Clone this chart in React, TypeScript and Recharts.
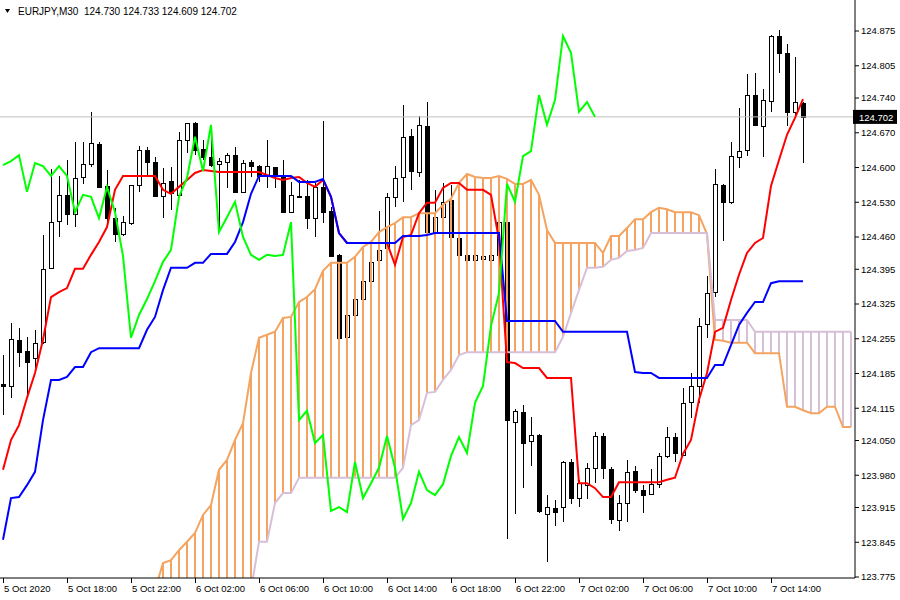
import React from 'react';
import { ComposedChart, Bar, Line, XAxis, YAxis, ReferenceLine } from 'recharts';

const FONT = '"Liberation Sans", Arial, sans-serif';

// EURJPY M30, one candle per bar starting 5 Oct 14:00
const opens = [
  124.164, 124.160, 124.253, 124.230, 124.216, 124.249, 124.398, 124.492, 124.545, 124.506,
  124.581, 124.607, 124.647, 124.563, 124.498, 124.466, 124.488, 124.565, 124.635, 124.611,
  124.543, 124.573, 124.545, 124.655, 124.690, 124.637, 124.621, 124.607, 124.611, 124.625,
  124.551, 124.611, 124.603, 124.583, 124.601, 124.583, 124.510, 124.543, 124.543, 124.498,
  124.561, 124.513, 124.424, 124.259, 124.303, 124.335, 124.371, 124.414, 124.438, 124.541,
  124.581, 124.664, 124.591, 124.684, 124.470, 124.500, 124.535, 124.458, 124.424, 124.414,
  124.416, 124.414, 124.424, 124.490, 124.087, 124.108, 124.049, 124.061, 123.902, 123.914,
  123.916, 124.007, 123.934, 123.960, 123.995, 124.059, 123.993, 123.890, 123.924, 123.989,
  123.950, 123.942, 123.962, 124.019, 124.057, 124.021, 124.128, 124.160, 124.285, 124.349,
  124.565, 124.531, 124.621, 124.635, 124.746, 124.684, 124.734, 124.865, 124.831, 124.712,
  124.730,
];
const highs = [
  124.222, 124.287, 124.277, 124.259, 124.273, 124.464, 124.597, 124.583, 124.615, 124.651,
  124.651, 124.712, 124.651, 124.595, 124.519, 124.502, 124.565, 124.643, 124.641, 124.621,
  124.599, 124.601, 124.672, 124.690, 124.692, 124.655, 124.662, 124.619, 124.629, 124.641,
  124.615, 124.615, 124.605, 124.655, 124.601, 124.615, 124.571, 124.575, 124.575, 124.569,
  124.694, 124.521, 124.426, 124.307, 124.337, 124.373, 124.414, 124.513, 124.549, 124.603,
  124.726, 124.678, 124.704, 124.732, 124.555, 124.569, 124.565, 124.460, 124.428, 124.426,
  124.424, 124.424, 124.494, 124.494, 124.114, 124.122, 124.097, 124.063, 123.940, 123.930,
  124.009, 124.013, 123.971, 124.005, 124.067, 124.065, 123.997, 123.940, 124.011, 123.999,
  123.960, 123.993, 124.025, 124.077, 124.065, 124.156, 124.186, 124.297, 124.382, 124.597,
  124.567, 124.651, 124.720, 124.788, 124.790, 124.758, 124.867, 124.877, 124.849, 124.823,
  124.733,
];
const lows = [
  124.101, 124.136, 124.198, 124.138, 124.196, 124.244, 124.396, 124.460, 124.484, 124.480,
  124.567, 124.601, 124.559, 124.484, 124.450, 124.462, 124.484, 124.551, 124.583, 124.541,
  124.498, 124.515, 124.543, 124.629, 124.625, 124.615, 124.601, 124.474, 124.559, 124.549,
  124.549, 124.581, 124.571, 124.559, 124.559, 124.508, 124.508, 124.539, 124.476, 124.460,
  124.488, 124.420, 124.255, 124.255, 124.301, 124.333, 124.369, 124.410, 124.434, 124.521,
  124.531, 124.555, 124.581, 124.468, 124.468, 124.498, 124.458, 124.422, 124.412, 124.412,
  124.412, 124.412, 124.422, 123.852, 123.902, 123.954, 123.999, 123.904, 123.805, 123.878,
  123.886, 123.922, 123.916, 123.932, 123.964, 123.973, 123.882, 123.868, 123.886, 123.944,
  123.904, 123.940, 123.954, 124.015, 124.007, 124.019, 124.095, 124.126, 124.257, 124.339,
  124.452, 124.527, 124.599, 124.623, 124.684, 124.621, 124.712, 124.790, 124.684, 124.702,
  124.609,
];
const closes = [
  124.160, 124.255, 124.228, 124.208, 124.247, 124.396, 124.490, 124.545, 124.506, 124.579,
  124.607, 124.649, 124.561, 124.498, 124.466, 124.490, 124.565, 124.635, 124.611, 124.543,
  124.569, 124.549, 124.655, 124.690, 124.635, 124.621, 124.605, 124.613, 124.625, 124.551,
  124.609, 124.603, 124.583, 124.603, 124.583, 124.510, 124.545, 124.541, 124.498, 124.561,
  124.510, 124.422, 124.257, 124.303, 124.335, 124.371, 124.410, 124.434, 124.541, 124.579,
  124.662, 124.593, 124.686, 124.470, 124.500, 124.531, 124.460, 124.424, 124.414, 124.424,
  124.422, 124.424, 124.490, 124.091, 124.110, 124.045, 124.061, 123.908, 123.916, 123.906,
  124.007, 123.934, 123.964, 123.995, 124.059, 123.995, 123.892, 123.924, 123.987, 123.950,
  123.940, 123.962, 124.019, 124.057, 124.025, 124.126, 124.160, 124.281, 124.347, 124.567,
  124.531, 124.623, 124.633, 124.746, 124.686, 124.736, 124.865, 124.831, 124.712, 124.732,
  124.702,
];

// Tenkan-sen (red) and Kijun-sen (blue), one value per candle
const tenkan = [
  123.991, 124.051, 124.081, 124.136, 124.186, 124.253, 124.339, 124.349, 124.357, 124.396,
  124.396, 124.424, 124.450, 124.480, 124.555, 124.583, 124.583, 124.583, 124.583, 124.583,
  124.555, 124.547, 124.561, 124.575, 124.589, 124.595, 124.593, 124.591, 124.591, 124.591,
  124.591, 124.591, 124.591, 124.585, 124.579, 124.575, 124.579, 124.581, 124.569, 124.561,
  124.575, 124.541, 124.468, 124.448, 124.448, 124.448, 124.448, 124.448, 124.448, 124.404,
  124.460, 124.464, 124.508, 124.529, 124.529, 124.559, 124.569, 124.569, 124.555, 124.555,
  124.555, 124.545, 124.454, 124.208, 124.206, 124.196, 124.196, 124.196, 124.176, 124.176,
  124.176, 124.176, 123.964, 123.964, 123.954, 123.936, 123.936, 123.966, 123.966, 123.966,
  123.966, 123.966, 123.966, 123.971, 123.975, 124.023, 124.051, 124.132, 124.186, 124.269,
  124.277, 124.333, 124.384, 124.428, 124.448, 124.458, 124.563, 124.615, 124.666, 124.700,
  124.738,
];
const kijun = [
  123.850, 123.934, 123.936, 123.960, 123.987, 124.091, 124.172, 124.172, 124.178, 124.198,
  124.198, 124.228, 124.236, 124.236, 124.236, 124.236, 124.236, 124.236, 124.273, 124.299,
  124.353, 124.398, 124.398, 124.398, 124.408, 124.408, 124.426, 124.426, 124.426, 124.450,
  124.490, 124.547, 124.583, 124.583, 124.583, 124.583, 124.583, 124.571, 124.571, 124.571,
  124.577, 124.541, 124.468, 124.448, 124.448, 124.448, 124.448, 124.448, 124.448, 124.448,
  124.462, 124.462, 124.462, 124.464, 124.468, 124.468, 124.468, 124.468, 124.468, 124.468,
  124.468, 124.468, 124.468, 124.291, 124.291, 124.291, 124.291, 124.291, 124.291, 124.291,
  124.269, 124.269, 124.269, 124.269, 124.269, 124.269, 124.269, 124.269, 124.269, 124.188,
  124.186, 124.186, 124.176, 124.176, 124.176, 124.176, 124.176, 124.176, 124.176, 124.202,
  124.202, 124.242, 124.283, 124.307, 124.329, 124.329, 124.367, 124.371, 124.371, 124.371,
  124.371,
];

// Senkou spans, drawn from bar 19 to bar 106 (26 bars ahead of last candle)
const CLOUD_START = 19;
const spanA = [
  123.749, 123.803, 123.809, 123.829, 123.846, 123.864, 123.900, 123.920, 123.991, 124.011,
  124.051, 124.085, 124.186, 124.257, 124.263, 124.269, 124.297, 124.299, 124.329, 124.339,
  124.355, 124.392, 124.408, 124.408, 124.408, 124.420, 124.440, 124.450, 124.470, 124.480,
  124.488, 124.500, 124.500, 124.508, 124.508, 124.508, 124.525, 124.537, 124.569, 124.587,
  124.581, 124.579, 124.579, 124.583, 124.577, 124.567, 124.567, 124.575, 124.545, 124.474,
  124.448, 124.448, 124.448, 124.448, 124.448, 124.448, 124.428, 124.462, 124.462, 124.478,
  124.496, 124.496, 124.510, 124.519, 124.516, 124.510, 124.510, 124.510, 124.504, 124.466,
  124.253, 124.251, 124.247, 124.247, 124.247, 124.226, 124.226, 124.226, 124.226, 124.118,
  124.118, 124.111, 124.105, 124.105, 124.118, 124.118, 124.077, 124.077,
];
const spanB = [
  123.640, 123.640, 123.640, 123.640, 123.640, 123.640, 123.640, 123.640, 123.640, 123.640,
  123.640, 123.690, 123.749, 123.846, 123.846, 123.924, 123.944, 123.944, 123.975, 123.975,
  123.975, 123.975, 123.975, 123.975, 123.975, 123.975, 123.975, 123.975, 123.975, 123.975,
  123.975, 123.995, 124.081, 124.091, 124.146, 124.148, 124.172, 124.192, 124.222, 124.228,
  124.228, 124.228, 124.228, 124.228, 124.228, 124.228, 124.228, 124.228, 124.228, 124.228,
  124.228, 124.259, 124.307, 124.353, 124.398, 124.398, 124.400, 124.414, 124.418, 124.432,
  124.434, 124.438, 124.468, 124.468, 124.468, 124.468, 124.468, 124.468, 124.468, 124.468,
  124.293, 124.293, 124.293, 124.293, 124.293, 124.269, 124.269, 124.269, 124.269, 124.269,
  124.269, 124.269, 124.269, 124.269, 124.269, 124.269, 124.269, 124.269,
];

const timeLabels = [
  '5 Oct 2020', '5 Oct 18:00', '5 Oct 22:00', '6 Oct 02:00', '6 Oct 06:00', '6 Oct 10:00',
  '6 Oct 14:00', '6 Oct 18:00', '6 Oct 22:00', '7 Oct 02:00', '7 Oct 06:00', '7 Oct 10:00',
  '7 Oct 14:00',
];
const priceTicks = [
  124.875, 124.805, 124.74, 124.67, 124.6, 124.53, 124.46, 124.395, 124.325, 124.255,
  124.185, 124.115, 124.05, 123.98, 123.915, 123.845, 123.775,
];
const lastPrice = 124.702;

const BARS = 107;
const CHIKOU_SHIFT = 26;

const rows = Array.from({ length: BARS }, (_, i) => {
  const c = i - CLOUD_START;
  return {
    i,
    open: opens[i] ?? null,
    high: highs[i] ?? null,
    low: lows[i] ?? null,
    close: closes[i] ?? null,
    tenkan: tenkan[i] ?? null,
    kijun: kijun[i] ?? null,
    chikou: closes[i + CHIKOU_SHIFT] ?? null,
    spanA: c >= 0 ? spanA[c] : null,
    spanB: c >= 0 ? spanB[c] : null,
  };
});

const Candle = (props: any) => {
  const { x, y, width, height } = props;
  const d = props.payload ?? props;
  if (d.high == null || !height) return null;
  const top = Math.min(y, y + height);
  const span = Math.abs(height);
  const k = span / (d.high - d.low);
  const py = (p: number) => Math.round(top + (d.high - p) * k);
  const cx = Math.round(x + width / 2);
  const y1 = py(Math.max(d.open, d.close));
  const y2 = py(Math.min(d.open, d.close));
  const wTop = Math.round(top);
  const wBot = Math.round(top + span);
  return (
    <g>
      <rect x={cx} y={wTop} width={1} height={Math.max(1, wBot - wTop)} fill="#000" />
      {d.close > d.open ? (
        <rect x={cx - 1.5} y={y1 + 0.5} width={4} height={Math.max(1, y2 - y1)} fill="#fff" stroke="#000" strokeWidth={1} />
      ) : (
        <rect x={cx - 2} y={y1} width={5} height={Math.max(1, y2 - y1 + 1)} fill="#000" />
      )}
    </g>
  );
};

// cloud hatching, one 2px stroke per bar, drawn over the candles like MT4 does
const Hatch = (props: any) => {
  const { x, y, width, height } = props;
  const d = props.payload ?? props;
  if (d.spanA == null || !height) return null;
  const cx = Math.round(x + width / 2);
  const top = Math.min(y, y + height);
  return (
    <rect
      x={cx - 1}
      y={top}
      width={2}
      height={Math.abs(height)}
      fill={d.spanA >= d.spanB ? '#F4A460' : '#D8BFD8'}
    />
  );
};

const TimeTick = (props: any) => {
  const { x, y, payload } = props;
  const n = payload.value / 8;
  if (payload.value % 8 !== 0 || n >= timeLabels.length) return null;
  return (
    <g>
      <line x1={x + 0.5} y1={y} x2={x + 0.5} y2={y + 5} stroke="#000" />
      <text x={x + 1} y={y + 14} fontSize={9.5} fontFamily={FONT} fill="#000">
        {timeLabels[n]}
      </text>
    </g>
  );
};

const PriceTag = (props: any) => {
  const vb = props.viewBox;
  if (!vb) return null;
  const left = vb.x + vb.width - 2;
  return (
    <g>
      <rect x={left} y={vb.y - 7} width={44} height={14} fill="#000" />
      <text x={left + 6} y={vb.y + 4} fontSize={9.5} fontFamily={FONT} fill="#fff">
        {lastPrice.toFixed(3)}
      </text>
    </g>
  );
};

export default function App() {
  return (
    <div style={{ position: 'absolute', left: 0, top: 0, width: 900, height: 600, background: '#fff' }}>
      <ComposedChart width={900} height={600} data={rows} margin={{ top: 0, right: 0, bottom: 0, left: -1 }}>
        <XAxis
          dataKey="i"
          type="category"
          height={22}
          interval={7}
          tickSize={0}
          tickMargin={0}
          tickLine={false}
          axisLine={{ stroke: '#000' }}
          tick={<TimeTick />}
        />
        <XAxis xAxisId="cloud" dataKey="i" type="category" hide />
        <YAxis
          orientation="right"
          type="number"
          domain={[123.773, 124.9375]}
          allowDataOverflow
          ticks={priceTicks}
          interval={0}
          width={45}
          tickSize={4}
          tickMargin={2}
          tickLine={{ stroke: '#000' }}
          axisLine={{ stroke: '#000' }}
          tick={{ fill: '#000', fontSize: 9.5, fontFamily: FONT }}
          tickFormatter={(v: number) => v.toFixed(3)}
        />
        <ReferenceLine y={lastPrice} stroke="#C0C0C0" strokeWidth={1} label={<PriceTag />} />
        <Bar
          dataKey={(d: any) => (d.high == null ? null : [d.low, d.high])}
          shape={<Candle />}
          isAnimationActive={false}
        />
        <Bar
          xAxisId="cloud"
          dataKey={(d: any) => (d.spanA == null ? null : [Math.min(d.spanA, d.spanB), Math.max(d.spanA, d.spanB)])}
          shape={<Hatch />}
          isAnimationActive={false}
        />
        <Line dataKey="spanA" stroke="#F4A460" strokeWidth={2} dot={false} activeDot={false} type="linear" isAnimationActive={false} />
        <Line dataKey="spanB" stroke="#D8BFD8" strokeWidth={2} dot={false} activeDot={false} type="linear" isAnimationActive={false} />
        <Line dataKey="tenkan" stroke="#FF0000" strokeWidth={2} dot={false} activeDot={false} type="linear" isAnimationActive={false} />
        <Line dataKey="kijun" stroke="#0000FF" strokeWidth={2} dot={false} activeDot={false} type="linear" isAnimationActive={false} />
        <Line dataKey="chikou" stroke="#00FF00" strokeWidth={2} dot={false} activeDot={false} type="linear" isAnimationActive={false} />
      </ComposedChart>
      <svg width={6} height={5} style={{ position: 'absolute', left: 5, top: 9 }}>
        <polygon points="0,0 5,0 2.5,4" fill="#000" />
      </svg>
      <div
        style={{
          position: 'absolute',
          left: 18,
          top: 5,
          fontFamily: FONT,
          fontSize: 10,
          lineHeight: '13px',
          color: '#000',
          whiteSpace: 'pre',
        }}
      >
        EURJPY,M30  124.730 124.733 124.609 124.702
      </div>
    </div>
  );
}
